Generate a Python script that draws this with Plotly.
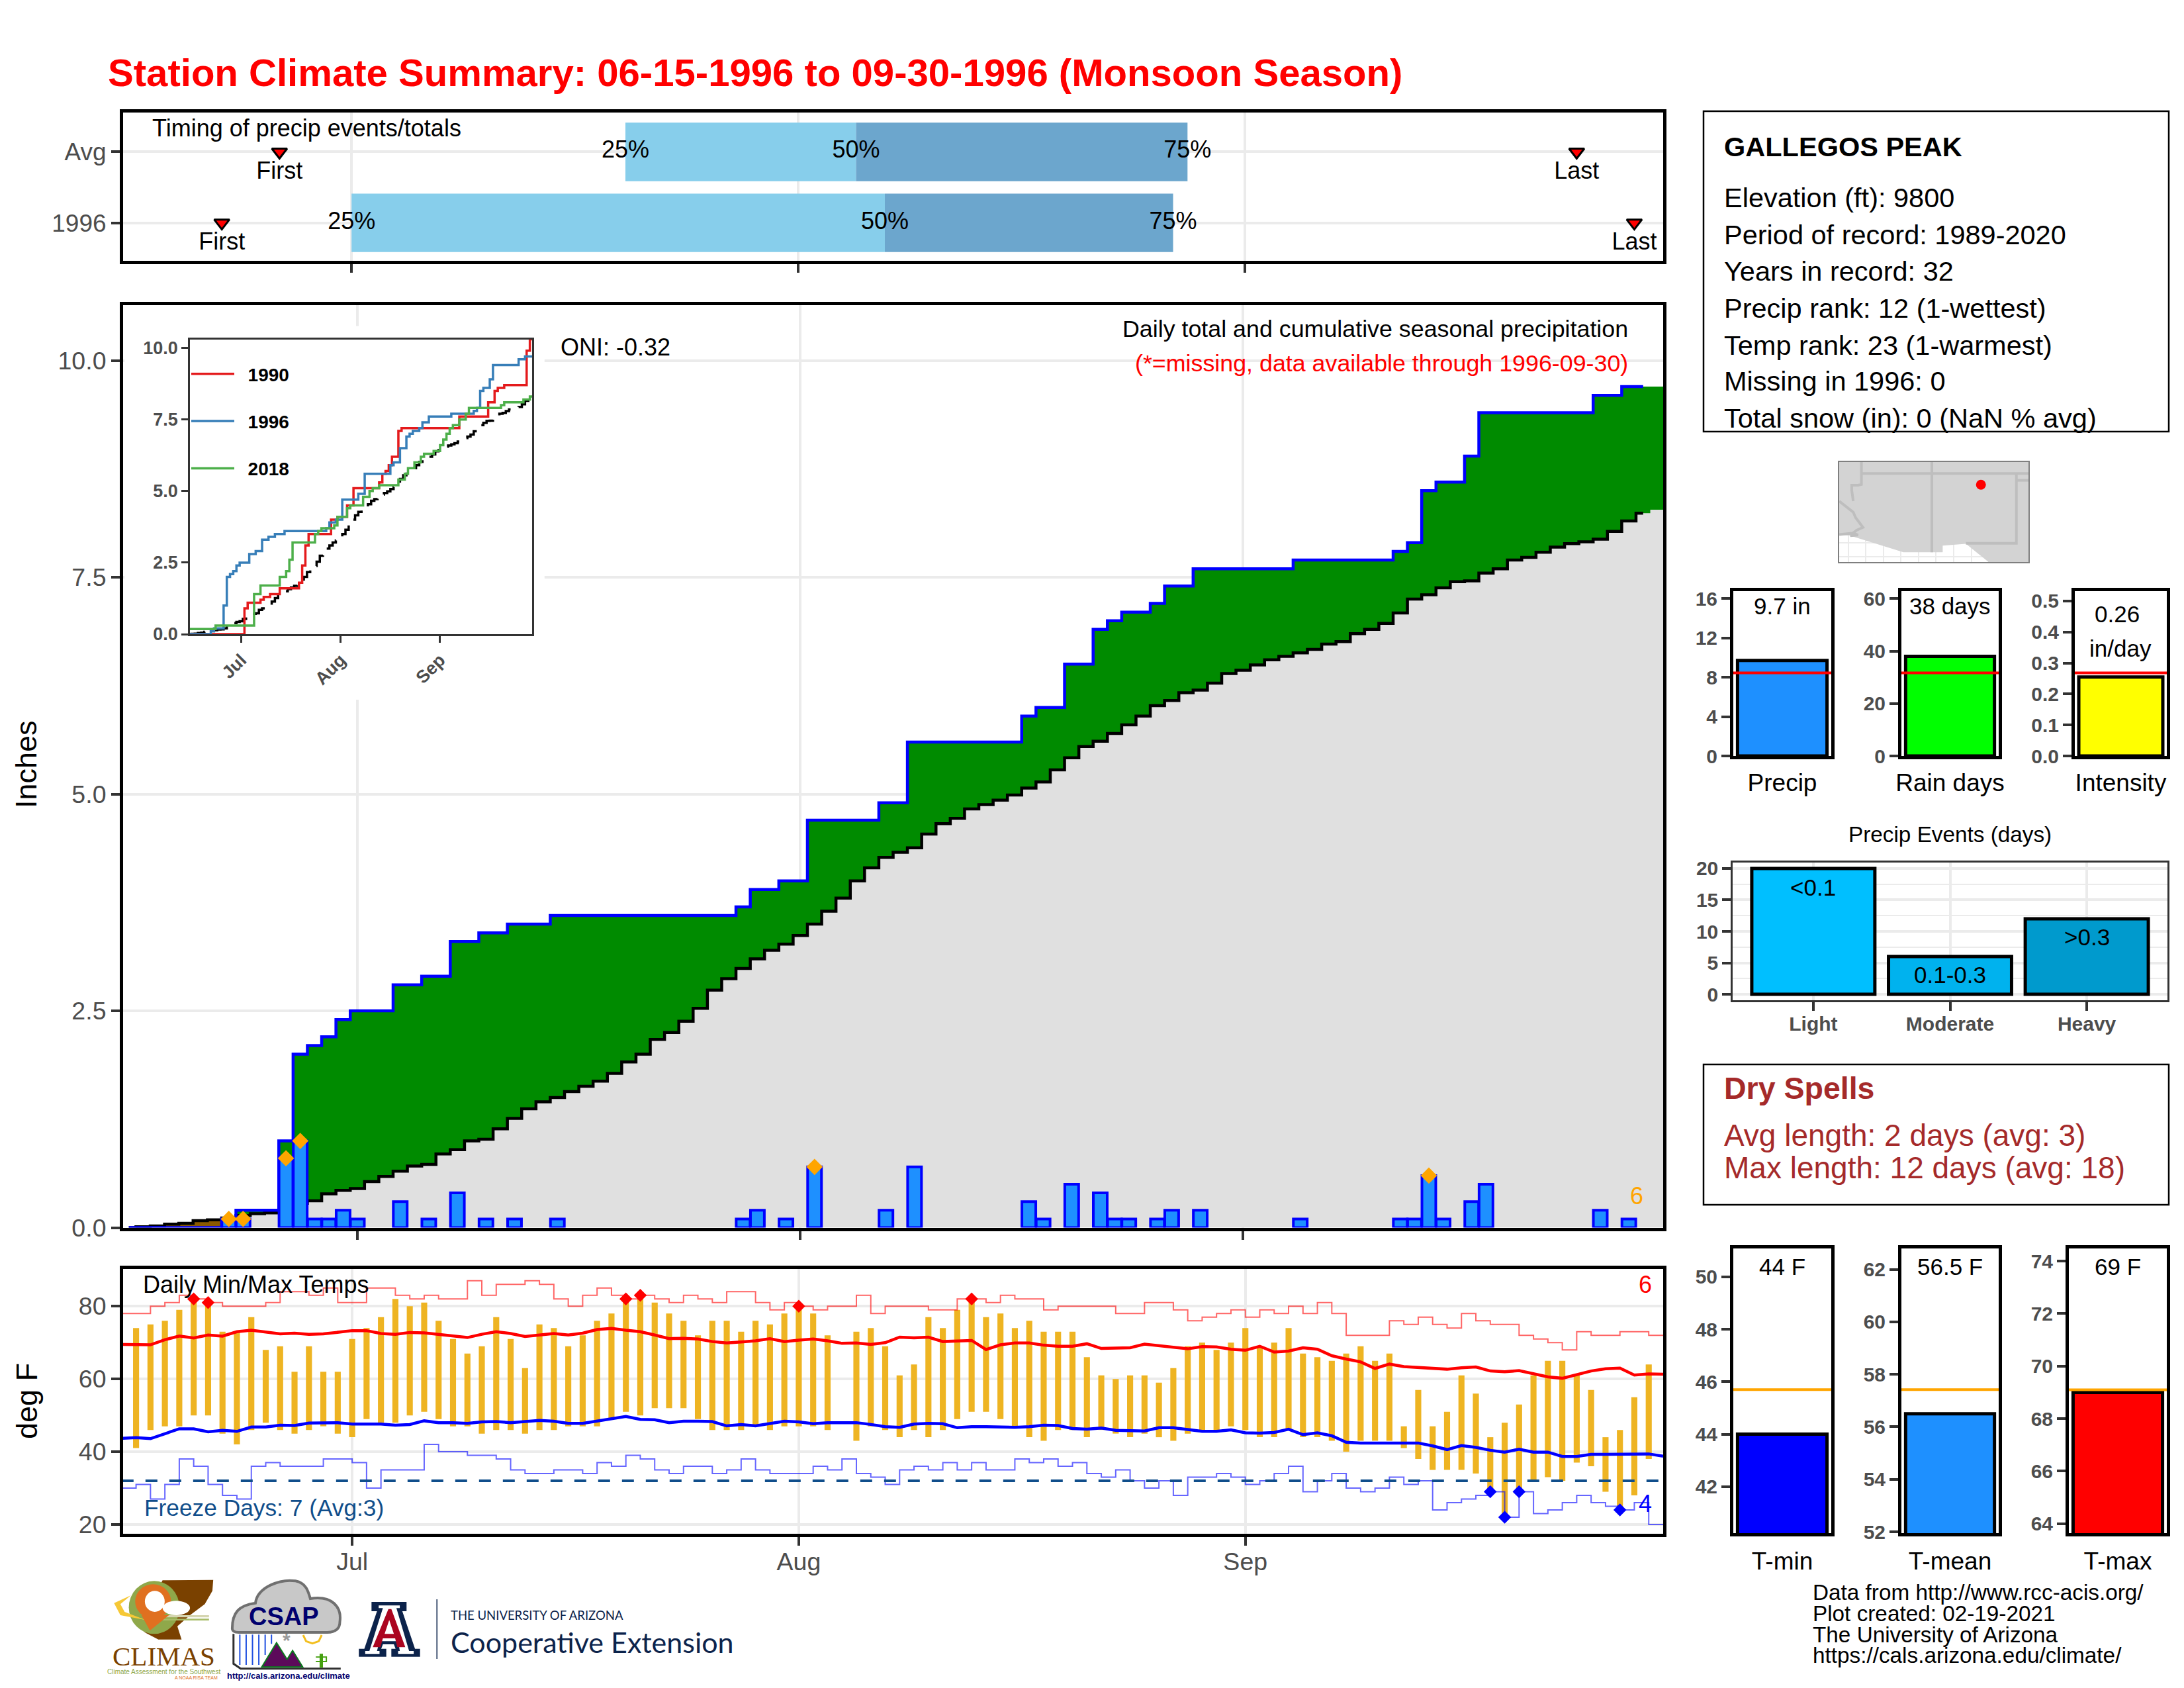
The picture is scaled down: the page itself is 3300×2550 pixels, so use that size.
"""Station climate summary page: Gallegos Peak, 1996 monsoon season."""

import plotly.graph_objects as go

W, H = 3300, 2550
FONT = "Liberation Sans"
GRID = "#EBEBEB"
TICK_TEXT = "#4D4D4D"
TICK_LINE = "#333333"

# ---------------------------------------------------------------------------
# Data (day 0 is June 15, day 107 is September 30)
# ---------------------------------------------------------------------------
month_days = [16, 47, 78]
month_names = ["Jul", "Aug", "Sep"]
season_days = list(range(108))

rain_day = [7, 8, 11, 12, 13, 14, 15, 16, 19, 21, 23, 25, 27, 30, 43, 44, 46, 48, 53, 55,
            63, 64, 66, 68, 69, 70, 72, 73, 75, 82, 89, 90, 91, 92, 94, 95, 103, 105]
rain_in = [.1, .1, .8, 1.0, .1, .1, .2, .1, .3, .1, .4, .1, .1, .1, .1, .2, .1, .7, .2, .7,
           .3, .1, .5, .4, .1, .1, .1, .2, .2, .1, .1, .1, .6, .1, .3, .5, .2, .1]
heavy_day = [7, 8, 11, 12, 48, 91]
heavy_in = [.1, .1, .8, 1.0, .7, .6]

cum_1996 = [0, 0, 0, 0, 0, 0, 0, .1, .2, .2, .2, 1.0, 2.0, 2.1, 2.2, 2.4,
            2.5, 2.5, 2.5, 2.8, 2.8, 2.9, 2.9, 3.3, 3.3, 3.4, 3.4, 3.5, 3.5, 3.5, 3.6,
            3.6, 3.6, 3.6, 3.6, 3.6, 3.6, 3.6, 3.6, 3.6, 3.6, 3.6, 3.6, 3.7, 3.9, 3.9, 4.0,
            4.0, 4.7, 4.7, 4.7, 4.7, 4.7, 4.9, 4.9, 5.6, 5.6, 5.6, 5.6, 5.6, 5.6, 5.6, 5.6,
            5.9, 6.0, 6.0, 6.5, 6.5, 6.9, 7.0, 7.1, 7.1, 7.2, 7.4, 7.4, 7.6, 7.6, 7.6,
            7.6, 7.6, 7.6, 7.6, 7.7, 7.7, 7.7, 7.7, 7.7, 7.7, 7.7, 7.8, 7.9, 8.5, 8.6, 8.6,
            8.9, 9.4, 9.4, 9.4, 9.4, 9.4, 9.4, 9.4, 9.4, 9.6, 9.6, 9.7, 9.7, 9.7]
cum_avg = [0, .01, .02, .04, .05, .08, .09, .11, .14, .16, .17, .2, .28, .31, .39, .43,
           .45, .53, .59, .65, .71, .73, .85, .9, 1.0, 1.02, 1.14, 1.26, 1.37, 1.45, 1.5,
           1.57, 1.63, 1.69, 1.78, 1.91, 2.0, 2.17, 2.25, 2.38, 2.53, 2.74, 2.87, 2.99, 3.1, 3.2, 3.27,
           3.37, 3.5, 3.65, 3.8, 4.0, 4.15, 4.27, 4.33, 4.38, 4.54, 4.66, 4.72, 4.83, 4.88, 4.93, 4.99,
           5.07, 5.14, 5.28, 5.42, 5.55, 5.61, 5.7, 5.8, 5.9, 6.02, 6.08, 6.17, 6.2, 6.28, 6.39,
           6.43, 6.49, 6.55, 6.59, 6.63, 6.67, 6.73, 6.76, 6.85, 6.9, 6.97, 7.09, 7.25, 7.3, 7.38,
           7.45, 7.46, 7.55, 7.6, 7.7, 7.73, 7.79, 7.85, 7.89, 7.91, 7.94, 8.03, 8.15, 8.24, 8.28]

year_1990_day = [0, 17, 18, 22, 23, 25, 28, 34, 35, 36, 37, 44, 46, 49, 51, 59, 60, 61, 62, 63, 65, 66,
                 84, 93, 95, 96, 98, 105, 106, 107]
year_1990_in = [0, .9, 1.1, 1.2, 1.3, 1.4, 1.6, 1.8, 2.4, 3.1, 3.5, 4.0, 4.1, 4.5, 5.1, 5.3, 5.6, 5.7, 5.9, 6.2, 7.1, 7.2,
                7.6, 8.1, 8.5, 8.6, 8.7, 9.9, 10.3, 10.3]
year_2018_day = [0, 8, 20, 22, 28, 30, 31, 32, 39, 40, 41, 45, 46, 49, 50, 54, 56, 57, 59, 65, 67, 68,
                 70, 72, 73, 76, 78, 79, 80, 81, 82, 84, 86, 87, 97, 98, 104, 106, 107]
year_2018_in = [.18, .3, 1.4, 1.7, 2.0, 2.2, 2.6, 3.2, 3.5, 3.6, 3.7, 3.8, 4.1, 4.4, 4.5, 4.8, 5.0, 5.1, 5.2, 5.4, 5.6, 5.8,
                6.0, 6.2, 6.3, 6.4, 6.6, 6.8, 7.0, 7.2, 7.3, 7.5, 7.7, 7.9, 8.0, 8.1, 8.2, 8.3, 8.3]

timing_rows = ["1996", "Avg"]
q25_day = [16, 35]
q50_day = [53, 51]
q75_day = [73, 74]
first_day = [7, 11]
last_day = [105, 101]

t_max = [None, 74, 75, 76, 79, 82, 81, 73, 73, 77, 68, 69, 62, 69, 62, 62,
         71, 74, 77, 82, 80, 81, 76, 71, 67, 69, 77, 71, 63, 75, 74, 69, 72, 76, 78, 82, 83, 81, 78, 76, 72, 76, 76, 73, 76, 75, 78,
         80, 78, 72, None, 73, 74, 69, 61, 64, 77, 74, 79, 82, 77, 78, 74, 76, 73, 73, 73, 66, 61, 60, 61, 61, 59, 63, 69, 70, 68, 70,
         74, 69, 70, 74, 67, 66, 65, 67, 69, 65, 67, 47, 57, 47, 51, 61, 56, 44, 48, 53, 61, 65, 65, 61, 57, 44, 46, 55, 64, None]
t_min = [None, 41, 46, 47, 47, 50, 50, 45, 42, 46, 48, 46, 45, 46, 47, 45,
         44, 49, 48, 48, 50, 51, 49, 47, 47, 45, 46, 46, 45, 46, 46, 47, 47, 47, 49, 51, 50, 52, 52, 52, 49, 46, 46, 46, 47, 46, 47,
         47, 47, 46, None, 43, 47, 46, 44, 46, 44, 46, 49, 51, 51, 49, 47, 44, 43, 46, 46, 44, 46, 45, 44, 45, 44, 43, 45, 46, 46, 47,
         46, 44, 44, 46, 44, 44, 43, 40, 43, 43, 43, 41, 38, 35, 35, 35, 34, 29, 22, 29, 32, 33, 32, 37, 36, 29, 24, 28, 38, None]
record_hi = [78, 78, 80, 81, 83, 82, 81, 80, 80, 80, 81, 84, 84, 83, 85, 81,
             81, 85, 85, 83, 82, 83, 82, 82, 87, 83, 86, 86, 87, 86, 82, 80, 83, 85, 83, 82, 83, 82, 81, 83, 82, 81, 84, 84, 81, 79, 81,
             80, 79, 80, 80, 83, 78, 80, 80, 80, 79, 79, 82, 82, 81, 83, 82, 82, 79, 80, 80, 80, 80, 78, 78, 81, 81, 79, 76, 77, 78, 79,
             77, 79, 78, 80, 78, 81, 78, 72, 72, 72, 76, 75, 77, 75, 74, 78, 76, 75, 75, 72, 71, 70, 68, 73, 72, 72, 73, 73, 72, 72]
record_lo = [30, 31, 27, 31, 38, 36, 31, 28, 27, 36, 37, 36, 36, 36, 38, 38,
             37, 30, 35, 35, 35, 42, 40, 40, 39, 39, 38, 35, 34, 34, 35, 35, 34, 37, 36, 39, 38, 35, 34, 36, 36, 34, 35, 38, 35, 34, 34,
             34, 36, 35, 38, 34, 33, 31, 35, 36, 35, 37, 35, 37, 35, 35, 38, 37, 38, 36, 37, 34, 33, 35, 32, 30, 32, 28, 33, 33, 34, 33,
             31, 32, 34, 36, 29, 32, 34, 30, 29, 30, 33, 31, 32, 24, 26, 27, 28, 29, 22, 29, 23, 24, 26, 28, 26, 25, 24, 26, 20, 20]
avg_hi = [69.5, 69.4, 69.4, 70.8, 71.8, 71.3, 72.1, 71.8, 73, 73.4, 72.9, 72.4, 72.6, 72.3, 72.4, 72.8,
          73.3, 73.3, 72.5, 72.3, 72.8, 72.7, 72.3, 71.8, 71.4, 72.3, 73, 72.5, 71.7, 72.1, 72.5, 72.1, 72.6, 73.6, 73.9, 73.4, 73,
          72.1, 71.1, 71.2, 71, 70.3, 69.9, 70.2, 70.5, 71.1, 70.3,
          70.7, 71, 70.5, 69.8, 69.9, 69.5, 70, 71.5, 71.3, 71.5, 70.3, 70.5, 70.6, 68.1, 69.4, 69.9, 69.9, 69.3, 69, 69, 69.7, 68.4,
          68.6, 68.6, 69.6, 69.1, 68.8, 68.3, 68.9, 68.8, 68.2,
          67.9, 69, 67.4, 67.7, 68.6, 68.2, 66.4, 65.5, 64.7, 62.9, 64.1, 63.4, 63.2, 63, 62.7, 63.1, 63.3, 62.2, 62, 62.3, 61.5, 60.6,
          60.2, 61.2, 62.2, 62.8, 63, 61.1, 61.4, 61.3]
avg_lo = [43.7, 43.9, 43.6, 45, 46.3, 46.3, 45.5, 45.9, 45.6, 46.8, 46.8, 47.3, 47.2, 47.9, 48, 48,
          47.6, 47.7, 47.6, 47.3, 47.5, 48.5, 48, 48, 47.8, 48.2, 48.3, 48, 48.2, 48.6, 48.4, 47.8, 47.8, 48.4, 49.1, 49.7, 48.9,
          48.8, 48, 48.4, 48.4, 48.3, 47.1, 47.5, 47.1, 47.8, 48.4,
          48.2, 47.7, 48, 48.1, 48, 47.5, 46.9, 46.7, 47.6, 47.8, 47.7, 46.6, 46.9, 46.9, 46.7, 46.7, 46.9, 47.3, 47.2, 46.4, 46.2,
          46.5, 45.9, 45.7, 45.7, 46.6, 46.6, 46.1, 45.6, 45.6, 46,
          45.2, 45.1, 45.3, 46.2, 44.7, 45.2, 44.4, 42.6, 42.4, 42.3, 42.4, 42.4, 42.4, 41.6, 40.6, 41.7, 41.2, 40.4, 39.9, 40.7,
          39.9, 39.9, 38.7, 38.7, 39.3, 39.3, 39.4, 39.4, 39.4, 38.8]
hot_day = [5, 6, 35, 36, 47, 59]
hot_temp = [82, 81, 82, 83, 80, 82]
cold_day = [95, 96, 97, 104]
cold_temp = [29, 22, 29, 24]
freeze_line = 32

stat_names = ["Precip", "Rain days", "Intensity"]
stat_values = [9.7, 38, 0.255]
stat_avgs = [8.45, 31.7, 0.268]
stat_colors = ["#1E90FF", "#00FF00", "#FFFF00"]
stat_ticks = [[0, 4, 8, 12, 16], [0, 20, 40, 60], [0, 0.1, 0.2, 0.3, 0.4, 0.5]]
stat_tickformat = ["d", "d", ".1f"]
stat_tops = [16.75, 62.9, 0.532]

event_names = ["Light", "Moderate", "Heavy"]
event_days = [20, 6, 12]
event_colors = ["#00BFFF", "#00B2EE", "#009ACD"]

temp_names = ["T-min", "T-mean", "T-max"]
temp_values = [44, 56.5, 69]
temp_avgs = [45.7, 57.42, 69.1]
temp_colors = ["#0000FF", "#1E90FF", "#FF0000"]
temp_ticks = [[42, 44, 46, 48, 50], [52, 54, 56, 58, 60, 62], [64, 66, 68, 70, 72, 74]]
temp_ranges = [[40.23, 51.08], [51.95, 62.8], [63.64, 74.48]]

info_lines = ["Elevation (ft): 9800", "Period of record: 1989-2020", "Years in record: 32",
              "Precip rank: 12 (1-wettest)", "Temp rank: 23 (1-warmest)", "Missing in 1996: 0",
              "Total snow (in): 0 (NaN % avg)"]
credit_lines = ["Data from http://www.rcc-acis.org/", "Plot created: 02-19-2021",
                "The University of Arizona", "https://cals.arizona.edu/climate/"]

land_lon = [-115.64, -102.18, -102.18, -105.02, -106.63, -108.28, -108.28, -111.07, -114.86, -115.64]
land_lat = [37.82, 37.82, 30.6, 30.6, 31.92, 31.78, 31.3, 31.3, 32.5, 32.58]
border_lon = [-115.64, -114.64, -114.47, -114.1, -113.95, -114.4, -114.64, -114.3, -114.86, None,
              -115.64, -114.5, None, -114.06, -114.06, -114.3, -114.75, -114.75, -114.64, None,
              -114.06, -102.18, None, -109.05, -109.05, None, -103.04, -103.04, -106.63, None, -103.04, -102.18]
border_lat = [34.99, 34.2, 33.8, 33.3, 33.1, 32.9, 32.7, 32.55, 32.5, None,
              32.58, 32.7, None, 37.82, 36.2, 36.15, 36.15, 35.8, 35.0, None,
              37.0, 37.0, None, 37.82, 31.3, None, 37.0, 31.95, 31.95, None, 36.5, 36.5]
station_lon = [-105.56]
station_lat = [36.18]


# ---------------------------------------------------------------------------
# Helpers
# ---------------------------------------------------------------------------
layout_axes = {}
shapes = []
notes = []
traces = []


def add_axes(n, box, xopts, yopts):
    """Register axis pair number n in the pixel box (left, top, right, bottom)."""
    left, top, right, bottom = box
    xname = "xaxis" if n == 1 else f"xaxis{n}"
    yname = "yaxis" if n == 1 else f"yaxis{n}"
    xref = "x" if n == 1 else f"x{n}"
    yref = "y" if n == 1 else f"y{n}"
    layout_axes[xname] = dict(domain=[left / W, right / W], anchor=yref, **xopts)
    layout_axes[yname] = dict(domain=[1 - bottom / H, 1 - top / H], anchor=xref, **yopts)
    return xref, yref


def axis_style(size=37.5, bold=False, border=5, color="black", grid=True, ticklen=13, tickwidth=4):
    return dict(
        showline=True, mirror=True, linecolor=color, linewidth=border,
        ticks="outside", ticklen=ticklen, tickwidth=tickwidth, tickcolor=TICK_LINE,
        tickfont=dict(family=FONT, size=size, color=TICK_TEXT, weight="bold" if bold else "normal"),
        showgrid=grid, gridcolor=GRID, gridwidth=3.5, zeroline=False,
    )


def note(x, y, text, size=36, color="black", anchor="left", bold=False, angle=0, family=FONT):
    # annotations carry a little padding on the left
    if anchor == "left":
        x -= 3
    notes.append(dict(
        x=x / W, y=1 - y / H, xref="paper", yref="paper", text=f"<b>{text}</b>" if bold else text,
        showarrow=False, xanchor=anchor, yanchor="middle", textangle=angle,
        font=dict(family=family, size=size, color=color),
    ))


def box_shape(left, top, right, bottom, line="black", width=2.5, fill=None):
    shapes.append(dict(
        type="rect", xref="paper", yref="paper", layer="below",
        x0=left / W, x1=right / W, y0=1 - bottom / H, y1=1 - top / H,
        line=dict(color=line, width=width), fillcolor=fill or "rgba(0,0,0,0)",
    ))


def logo_xy(zx, zy):
    """Logo strip is measured on a stretched crop of the page bottom."""
    return (150 + zx / 1.568) / W, 1 - (2360 + zy / 3) / H


def logo_poly(points, fill="rgba(0,0,0,0)", line="rgba(0,0,0,0)", width=0, closed=True):
    coords = [logo_xy(*p) for p in points]
    path = "M " + " L ".join(f"{x:.5f},{y:.5f}" for x, y in coords) + (" Z" if closed else "")
    shapes.append(dict(type="path", xref="paper", yref="paper", path=path, layer="above",
                       fillcolor=fill, line=dict(color=line, width=width)))


def logo_oval(zx0, zy0, zx1, zy1, fill="rgba(0,0,0,0)", line="rgba(0,0,0,0)", width=0):
    x0, y0 = logo_xy(zx0, zy0)
    x1, y1 = logo_xy(zx1, zy1)
    shapes.append(dict(type="circle", xref="paper", yref="paper", layer="above",
                       x0=x0, x1=x1, y0=y1, y1=y0, fillcolor=fill, line=dict(color=line, width=width)))


# ---------------------------------------------------------------------------
# Timing strip
# ---------------------------------------------------------------------------
tx, ty = add_axes(
    1, (186, 170, 2513, 394),
    dict(range=[0.15, 107], tickvals=month_days, ticktext=["", "", ""], **axis_style()),
    dict(range=[-0.535, 1.555], tickvals=[0, 1], ticktext=timing_rows, **axis_style(37)),
)
row_pos = [0, 1]
traces.append(go.Bar(
    y=row_pos, x=[b - a for a, b in zip(q25_day, q50_day)], base=q25_day, orientation="h",
    width=0.825, marker=dict(color="#87CEEB", line=dict(width=0)), xaxis=tx, yaxis=ty, showlegend=False,
))
traces.append(go.Bar(
    y=row_pos, x=[b - a for a, b in zip(q50_day, q75_day)], base=q50_day, orientation="h",
    width=0.825, marker=dict(color="#6CA6CD", line=dict(width=0)), xaxis=tx, yaxis=ty, showlegend=False,
))
for days, label in [(q25_day, "25%"), (q50_day, "50%"), (q75_day, "75%")]:
    traces.append(go.Scatter(
        x=days, y=row_pos, mode="text", text=[label, label], textposition="middle center",
        textfont=dict(family=FONT, size=36, color="black"), xaxis=tx, yaxis=ty, showlegend=False,
    ))
for days, label in [(first_day, "First"), (last_day, "Last")]:
    traces.append(go.Scatter(
        x=days, y=row_pos, mode="markers+text", text=[label, label], textposition="bottom center",
        textfont=dict(family=FONT, size=36, color="black"),
        marker=dict(symbol="triangle-down", size=20, color="red", line=dict(color="black", width=3)),
        xaxis=tx, yaxis=ty, showlegend=False,
    ))
note(231, 194, "Timing of precip events/totals")

# ---------------------------------------------------------------------------
# Main precipitation panel
# ---------------------------------------------------------------------------
px, py = add_axes(
    2, (186, 461, 2513, 1854.5),
    dict(range=[-0.4, 107.4], tickvals=month_days, ticktext=["", "", ""], **axis_style()),
    dict(range=[0, 10.64], tickvals=[0, 2.5, 5, 7.5, 10], tickformat=".1f", **axis_style()),
)
layout_axes["yaxis5"] = dict(
    domain=layout_axes["yaxis2"]["domain"], overlaying="y2", range=[0, 10.64], visible=False, anchor="x2",
)
upper = [max(a, b) for a, b in zip(cum_1996, cum_avg)]
lower = [min(a, b) for a, b in zip(cum_1996, cum_avg)]
step_line = dict(shape="hvh", width=0)
# the ribbons run on to the frame, the outlines stop a day early
ribbon_days = season_days + [107.4]
traces.append(go.Scatter(x=ribbon_days, y=cum_avg + cum_avg[-1:], mode="lines", fill="tozeroy", fillcolor="#E0E0E0",
                         line=dict(color="rgba(0,0,0,0)", **step_line), xaxis=px, yaxis=py, showlegend=False))
traces.append(go.Scatter(x=ribbon_days, y=upper + upper[-1:], mode="lines", fill="tonexty", fillcolor="#008B00",
                         line=dict(color="rgba(0,0,0,0)", **step_line), xaxis=px, yaxis=py, showlegend=False))
traces.append(go.Scatter(x=season_days, y=lower, mode="lines",
                         line=dict(color="rgba(0,0,0,0)", **step_line), xaxis=px, yaxis=py, showlegend=False))
traces.append(go.Scatter(x=season_days, y=cum_avg, mode="lines", fill="tonexty", fillcolor="#8B5A00",
                         line=dict(color="rgba(0,0,0,0)", **step_line), xaxis=px, yaxis=py, showlegend=False))
traces.append(go.Scatter(x=season_days[:107], y=cum_avg[:107], mode="lines",
                         line=dict(color="black", width=4.5, shape="hvh"), xaxis=px, yaxis=py, showlegend=False))
traces.append(go.Scatter(x=season_days[:107], y=cum_1996[:107], mode="lines",
                         line=dict(color="#0000FF", width=4.5, shape="hvh"), xaxis=px, yaxis=py, showlegend=False))
traces.append(go.Bar(x=rain_day, y=rain_in, width=0.97, xaxis=px, yaxis="y5", showlegend=False,
                     marker=dict(color="#1E90FF", line=dict(color="#0000FF", width=4))))
traces.append(go.Scatter(x=heavy_day, y=heavy_in, mode="markers", xaxis=px, yaxis="y5", showlegend=False,
                         marker=dict(symbol="diamond", size=19, color="#FFA500")))
shapes.append(dict(type="rect", xref=px, yref=py, layer="between", x0=-0.3, x1=29.1, y0=6.09, y1=10.4,
                   fillcolor="white", line=dict(width=0)))
note(40, 1155, "Inches", 45, angle=-90, anchor="center")
note(848, 524, "ONI: -0.32")
note(2462, 497, "Daily total and cumulative seasonal precipitation", 35.8, anchor="right")
note(2462, 549, "(*=missing, data available through 1996-09-30)", 35.8, color="red", anchor="right")
note(2473, 1806, "6", color="#FFA500", anchor="center")

# Inset with comparison years
ix, iy = add_axes(
    3, (287, 513, 804, 958),
    dict(range=[0, 106.7], tickvals=month_days, ticktext=month_names, tickangle=-45,
         **axis_style(27, True, 2.5, "#333333", False, 10, 3)),
    dict(range=[0, 10.29], tickvals=[0, 2.5, 5, 7.5, 10], tickformat=".1f",
         **axis_style(27, True, 2.5, "#333333", False, 10, 3)),
)
traces.append(go.Scatter(x=season_days, y=cum_avg, mode="lines", xaxis=ix, yaxis=iy, showlegend=False,
                         line=dict(color="black", width=3.5, dash="26px,16px", shape="hvh")))
traces.append(go.Scatter(x=year_1990_day, y=year_1990_in, mode="lines", xaxis=ix, yaxis=iy, name="\u00a0\u00a01990",
                         legendgroup="1990", line=dict(color="#E41A1C", width=3.5, shape="hv")))
traces.append(go.Scatter(x=season_days, y=cum_1996, mode="lines", xaxis=ix, yaxis=iy, name="\u00a0\u00a01996",
                         legendgroup="1996", line=dict(color="#377EB8", width=3.5, shape="hvh")))
traces.append(go.Scatter(x=year_2018_day, y=year_2018_in, mode="lines", xaxis=ix, yaxis=iy, name="\u00a0\u00a02018",
                         legendgroup="2018", line=dict(color="#4DAF4A", width=3.5, shape="hv")))

# ---------------------------------------------------------------------------
# Temperature panel
# ---------------------------------------------------------------------------
ax, ay = add_axes(
    4, (186, 1917, 2513, 2317),
    dict(range=[0.1, 107], tickvals=month_days, ticktext=month_names, ticklabelstandoff=-8, **axis_style()),
    dict(range=[17.45, 90.25], tickvals=[20, 40, 60, 80], **axis_style()),
)
spread = [None if hi is None else hi - lo for hi, lo in zip(t_max, t_min)]
traces.append(go.Bar(x=season_days, y=spread, base=t_min, width=0.42, xaxis=ax, yaxis=ay, showlegend=False,
                     marker=dict(color="#EEB422", line=dict(width=0))))
traces.append(go.Scatter(x=season_days, y=record_hi, mode="lines", xaxis=ax, yaxis=ay, showlegend=False,
                         line=dict(color="rgba(255,0,0,0.6)", width=2, shape="hv")))
traces.append(go.Scatter(x=season_days, y=record_lo, mode="lines", xaxis=ax, yaxis=ay, showlegend=False,
                         line=dict(color="rgba(0,0,255,0.6)", width=2, shape="hv")))
traces.append(go.Scatter(x=[0, 107], y=[freeze_line, freeze_line], mode="lines", xaxis=ax, yaxis=ay, showlegend=False,
                         line=dict(color="#104E8B", width=4, dash="18px,18px")))
traces.append(go.Scatter(x=season_days, y=avg_hi, mode="lines", xaxis=ax, yaxis=ay, showlegend=False,
                         line=dict(color="#FF0000", width=4.5)))
traces.append(go.Scatter(x=season_days, y=avg_lo, mode="lines", xaxis=ax, yaxis=ay, showlegend=False,
                         line=dict(color="#0000FF", width=4.5)))
traces.append(go.Scatter(x=hot_day, y=hot_temp, mode="markers", xaxis=ax, yaxis=ay, showlegend=False,
                         marker=dict(symbol="diamond", size=15, color="#FF0000")))
traces.append(go.Scatter(x=cold_day, y=cold_temp, mode="markers", xaxis=ax, yaxis=ay, showlegend=False,
                         marker=dict(symbol="diamond", size=15, color="#0000FF")))
note(40, 2117, "deg F", 45, angle=-90, anchor="center")
note(217, 1940, "Daily Min/Max Temps")
note(219, 2277, "Freeze Days: 7 (Avg:3)", 35.3, color="#104E8B")
note(2486, 1940, "6", color="red", anchor="center")
note(2486, 2271, "4", color="#0000FF", anchor="center")

# ---------------------------------------------------------------------------
# Side panels
# ---------------------------------------------------------------------------
box_shape(2574, 168, 3277, 652)
note(2606, 221, "GALLEGOS PEAK", 41.5, bold=True)
for text, y in zip(info_lines, [299, 354.6, 410, 465, 521, 576, 631]):
    note(2606, y, text, 41.5)

# Locator map
mx, my = add_axes(
    6, (2779, 698, 3065, 849),
    dict(range=[-115.64, -102.18], tick0=-115, dtick=1.25, showticklabels=False, ticks="", showline=True,
         mirror=True, linecolor="#7F7F7F", linewidth=2, showgrid=True, gridcolor=GRID, gridwidth=2, zeroline=False),
    dict(range=[30.6, 37.82], tick0=31, dtick=1, showticklabels=False, ticks="", showline=True,
         mirror=True, linecolor="#7F7F7F", linewidth=2, showgrid=True, gridcolor=GRID, gridwidth=2, zeroline=False),
)
traces.append(go.Scatter(x=land_lon, y=land_lat, mode="lines", fill="toself", fillcolor="#D3D3D3",
                         line=dict(width=0, color="rgba(0,0,0,0)"), xaxis=mx, yaxis=my, showlegend=False))
traces.append(go.Scatter(x=border_lon, y=border_lat, mode="lines", connectgaps=False,
                         line=dict(color="#BEBEBE", width=4), xaxis=mx, yaxis=my, showlegend=False))
traces.append(go.Scatter(x=station_lon, y=station_lat, mode="markers", marker=dict(color="red", size=15),
                         xaxis=mx, yaxis=my, showlegend=False))

# Precip, rain days, intensity
stat_boxes = [(2619, 893, 2767, 1142), (2873, 893, 3020, 1142), (3135, 893, 3274, 1142)]
for i in range(3):
    n = 7 + i
    sx, sy = add_axes(
        n, stat_boxes[i],
        dict(type="category", range=[-0.52, 0.52], showline=True, mirror=True, linecolor="black", linewidth=5,
             ticks="outside", ticklen=4, tickcolor="rgba(0,0,0,0)", tickwidth=1, showgrid=False,
             tickfont=dict(family=FONT, size=37, color="black")),
        dict(range=[0, stat_tops[i]], tickvals=stat_ticks[i], tickformat=stat_tickformat[i],
             **{**axis_style(30, True), "showgrid": False}),
    )
    traces.append(go.Bar(x=[stat_names[i]], y=[stat_values[i]], width=0.95, xaxis=sx, yaxis=sy, showlegend=False,
                         marker=dict(color=stat_colors[i], line=dict(color="black", width=5))))
    shapes.append(dict(type="line", xref=f"{sx} domain", yref=sy, layer="above", x0=0, x1=1,
                       y0=stat_avgs[i], y1=stat_avgs[i], line=dict(color="red", width=4)))
note(2693, 916, "9.7 in", 35, anchor="center")
note(2946, 916, "38 days", 35, anchor="center")
note(3199, 928, "0.26", 35, anchor="center")
note(3204, 979, "in/day", 35, anchor="center")

# Precip events
ex, ey = add_axes(
    10, (2618, 1303, 3275, 1511),
    dict(range=[-0.59, 2.59], tickvals=[0, 1, 2], ticktext=event_names, ticklabelstandoff=-6,
         **axis_style(30, True, 2.5, "#333333")),
    dict(range=[-0.94, 20.94], tickvals=[0, 5, 10, 15, 20], minor=dict(tickvals=[2.5, 7.5, 12.5, 17.5], showgrid=True,
         gridcolor=GRID, gridwidth=2, ticks=""), **axis_style(30, True, 2.5, "#333333")),
)
traces.append(go.Bar(x=[0, 1, 2], y=event_days, width=0.9, xaxis=ex, yaxis=ey, showlegend=False,
                     marker=dict(color=event_colors, line=dict(color="black", width=5))))
note(2946, 1260, "Precip Events (days)", 33.3, anchor="center")
note(2739, 1340, "&lt;0.1", 35, anchor="center")
note(2946, 1472, "0.1-0.3", 35, anchor="center")
note(3153, 1415, "&gt;0.3", 35, anchor="center")

# Dry spells
box_shape(2574, 1608, 3277, 1820)
note(2606, 1644, "Dry Spells", 46.5, color="#A52A2A", bold=True)
note(2606, 1715, "Avg length: 2 days (avg: 3)", 46, color="#A52A2A")
note(2606, 1764, "Max length: 12 days (avg: 18)", 46, color="#A52A2A")

# Seasonal temperatures
temp_boxes = [(2619, 1886, 2767, 2316), (2873, 1886, 3020, 2316), (3126, 1886, 3274, 2316)]
for i in range(3):
    n = 11 + i
    sx, sy = add_axes(
        n, temp_boxes[i],
        dict(type="category", range=[-0.52, 0.52], showline=True, mirror=True, linecolor="black", linewidth=5,
             ticks="outside", ticklen=6, tickcolor="rgba(0,0,0,0)", tickwidth=1, showgrid=False,
             tickfont=dict(family=FONT, size=37, color="black")),
        dict(range=temp_ranges[i], tickvals=temp_ticks[i], **{**axis_style(30, True), "showgrid": False}),
    )
    traces.append(go.Bar(x=[temp_names[i]], y=[temp_values[i]], width=0.95, xaxis=sx, yaxis=sy, showlegend=False,
                         marker=dict(color=temp_colors[i], line=dict(color="black", width=5))))
    shapes.append(dict(type="line", xref=f"{sx} domain", yref=sy, layer="above", x0=0, x1=1,
                       y0=temp_avgs[i], y1=temp_avgs[i], line=dict(color="#FFA500", width=4)))
note(2693, 1913, "44 F", 35, anchor="center")
note(2946, 1913, "56.5 F", 35, anchor="center")
note(3200, 1913, "69 F", 35, anchor="center")

for text, y in zip(credit_lines, [2405, 2437, 2469, 2500]):
    note(2740, y, text, 33.3)

# ---------------------------------------------------------------------------
# Logos, roughly redrawn
# ---------------------------------------------------------------------------
logo_poly([(150, 82), (270, 80), (268, 130), (250, 190), (215, 240), (185, 290), (195, 350), (140, 350),
           (110, 320), (90, 290)], fill="#7A4100")
logo_oval(70, 85, 190, 325, fill="#8FA84A")
logo_oval(85, 100, 170, 255, fill="#E07020")
logo_oval(108, 130, 155, 225, fill="white")
logo_oval(150, 175, 215, 240, fill="white")
logo_poly([(75, 150), (35, 185), (50, 240), (110, 262), (60, 225), (50, 190)], fill="#F6C836")
logo_poly([(130, 240), (260, 240), (260, 250), (130, 250)], fill="#D5D5B0")
logo_poly([(130, 256), (260, 256), (260, 264), (130, 264)], fill="#A8BC6A")
logo_poly([(100, 240), (165, 240), (120, 310)], fill="#E07020")
note(247, 2502, "CLIMAS", 41, color="#7A4100", anchor="center", family="Liberation Serif")
note(247, 2525, "Climate Assessment for the Southwest", 10, color="#8FA84A", anchor="center")
note(296, 2534, "A NOAA RISA TEAM", 7, color="#E07020", anchor="center")

cloud = ("M {} C {} {} {} C {} {} {} C {} {} {} C {} {} {} C {} {} {} L {} C {} {} {} Z").format(
    *[" ".join(f"{v:.5f}" for v in [logo_xy(*p)[0], logo_xy(*p)[1]]).replace(" ", ",") for p in [
        (315, 300), (315, 230), (330, 195), (370, 185), (375, 110), (430, 75), (465, 85), (490, 95), (495, 130),
        (500, 165), (550, 150), (575, 200), (570, 270), (570, 300), (560, 318), (540, 318), (330, 318),
        (320, 318), (315, 310), (315, 300)]])
shapes.append(dict(type="path", xref="paper", yref="paper", layer="above", path=cloud, fillcolor="#C8C8C8",
                   line=dict(color="#707070", width=4)))
note(429, 2442, "CSAP", 38, color="#00006E", anchor="center", bold=True)
logo_poly([(318, 325), (318, 460), (335, 482), (572, 482)], line="#303030", width=3, closed=False)
for zx, zy in [(333, 465), (348, 465), (363, 465), (378, 465), (393, 420), (408, 370)]:
    logo_poly([(zx, 328), (zx, zy)], line="#1F4FE0", width=2, closed=False)
logo_poly([(385, 475), (420, 365), (445, 440), (458, 400), (482, 475)], fill="#5C0A5A", line="#0B7A1E", width=2)
note(433, 2477, "*", 30, color="#9A9A9A", anchor="center", bold=True)
logo_poly([(483, 330), (490, 358), (505, 368), (520, 358), (527, 330)], line="#F2BE1E", width=3, closed=False)
logo_poly([(522, 415), (530, 415), (530, 478), (522, 478)], fill="#45A010")
logo_poly([(513, 430), (538, 430), (538, 450), (513, 450)], line="#45A010", width=2, closed=False)
note(436, 2531, "http://cals.arizona.edu/climate", 13, color="#00006E", anchor="center", bold=True)

logo_poly([(645, 180), (728, 180), (728, 222), (718, 222), (748, 392), (760, 392), (760, 428), (692, 428), (692, 392),
           (702, 392), (698, 372), (672, 372), (668, 392), (680, 392), (680, 428), (615, 428), (615, 392), (628, 392),
           (658, 222), (645, 222)], fill="#0C234B")
logo_poly([(662, 196), (712, 196), (712, 208), (704, 208), (734, 402), (745, 402), (745, 416), (708, 416), (708, 402),
           (712, 402), (708, 358), (664, 358), (658, 402), (664, 402), (664, 416), (630, 416), (630, 402), (640, 402),
           (672, 208), (662, 208)], fill="white")
logo_poly([(685, 212), (692, 212), (725, 385), (706, 385), (701, 345), (672, 345), (666, 385), (648, 385)], fill="#AB0520")
logo_poly([(687, 262), (698, 325), (676, 325)], fill="white")
logo_poly([(800, 168), (800, 438)], line="#0C234B", width=1.5, closed=False)
note(682, 2440, "THE UNIVERSITY OF ARIZONA", 18.5, color="#0C234B", family="Lato")
note(682, 2480, "Cooperative Extension", 43, color="#0C234B", family="Lato")

# ---------------------------------------------------------------------------
# Figure
# ---------------------------------------------------------------------------
note(164, 110, "Station Climate Summary: 06-15-1996 to 09-30-1996 (Monsoon Season)", 58.1, color="red", bold=True)

fig = go.Figure(data=traces)
fig.update_layout(
    width=W, height=H, margin=dict(l=0, r=0, t=0, b=0, pad=0, autoexpand=False),
    paper_bgcolor="white", plot_bgcolor="white", barmode="overlay",
    font=dict(family=FONT), shapes=shapes, annotations=notes,
    legend=dict(x=284 / W, y=1 - 540 / H, xanchor="left", yanchor="top", bgcolor="rgba(0,0,0,0)",
                itemwidth=65, tracegroupgap=32, font=dict(family=FONT, size=28, weight="bold", color="black")),
    **layout_axes,
)
fig.write_html("out.html", config={"displayModeBar": False}, post_script="document.body.style.margin='0';")
